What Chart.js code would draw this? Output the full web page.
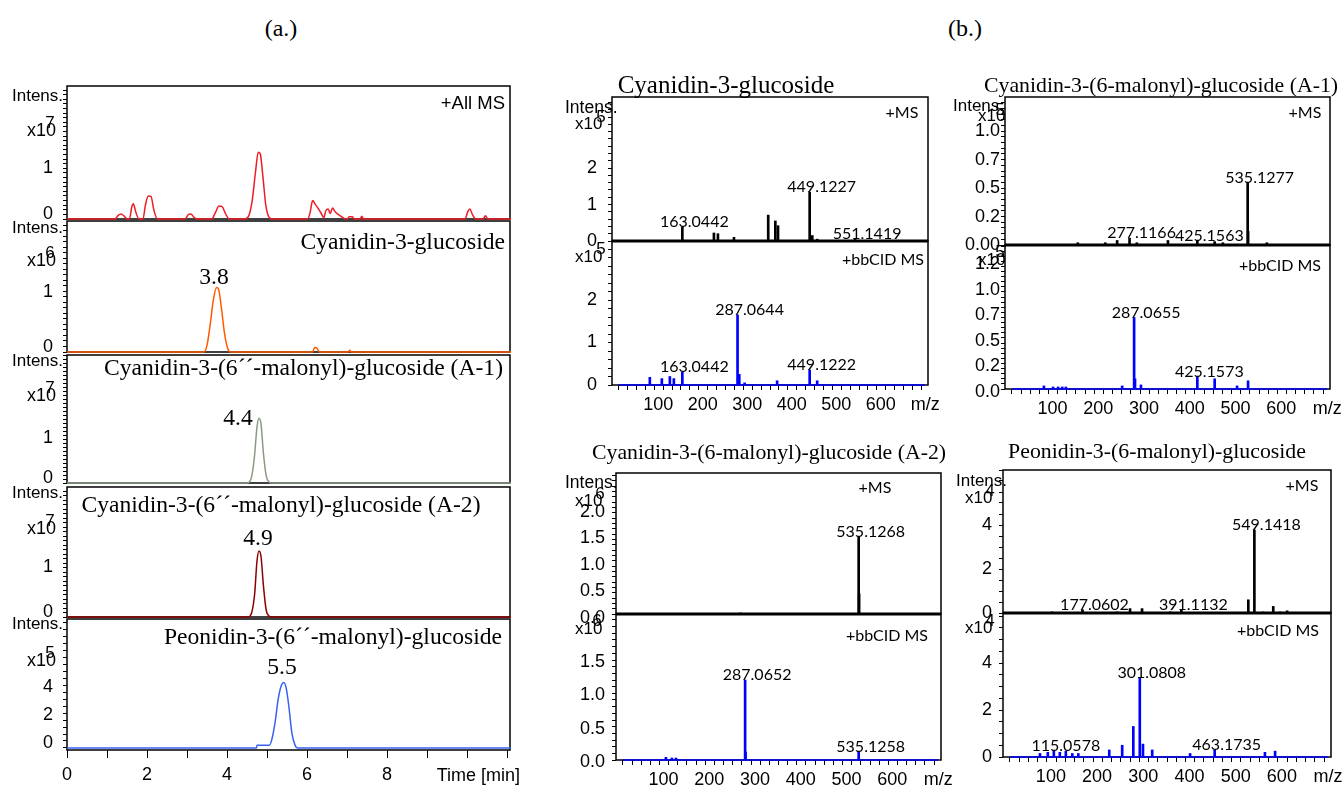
<!DOCTYPE html>
<html>
<head>
<meta charset="utf-8">
<script src="https://cdn.jsdelivr.net/npm/chart.js@4.4.0/dist/chart.umd.min.js"></script>
<style>
  html, body { margin: 0; padding: 0; background: #fff; }
  #page { position: relative; width: 1342px; height: 788px; overflow: hidden; background: #fff; }
  #page canvas { position: absolute; }
  .t { position: absolute; white-space: nowrap; color: #000; z-index: 5; }
</style>
</head>
<body>
<div id="page"></div>
<script>
// --- (a.) chromatograms: time [min], intensity in units of the panel's x10^n ---
const ticTime = [
  0, 1.2, 1.28, 1.35, 1.42, 1.5,
  1.56, 1.62, 1.66, 1.72, 1.8,
  1.9, 1.96, 2.03, 2.1, 2.17, 2.26,
  2.95, 3.04, 3.1, 3.16, 3.24,
  3.62, 3.7, 3.8, 3.88, 3.96, 4.06,
  4.45, 4.55, 4.63, 4.71, 4.78, 4.83, 4.9, 4.97, 5.05, 5.13,
  6.02, 6.08, 6.14, 6.2, 6.27, 6.35, 6.42, 6.47, 6.53, 6.58, 6.64, 6.7, 6.78, 6.88, 6.97,
  7.02, 7.05, 7.14, 7.17, 7.33, 7.37, 7.41,
  9.95, 10.02, 10.07, 10.14, 10.22, 10.4, 10.46, 10.52, 11.1
];
const ticInt = [
  0, 0, 0.08, 0.11, 0.07, 0,
  0, 0.26, 0.33, 0.15, 0,
  0, 0.3, 0.5, 0.49, 0.2, 0,
  0, 0.1, 0.11, 0.05, 0,
  0, 0.12, 0.28, 0.27, 0.12, 0,
  0, 0.08, 0.4, 1.0, 1.45, 1.42, 0.9, 0.3, 0.04, 0,
  0, 0.15, 0.4, 0.33, 0.24, 0.13, 0.03, 0.18, 0.22, 0.12, 0.24, 0.16, 0.1, 0.04, 0,
  0, 0.05, 0.05, 0, 0, 0.06, 0,
  0, 0.16, 0.22, 0.09, 0, 0, 0.07, 0, 0
];
const c3gTime = [0, 3.42, 3.5, 3.58, 3.66, 3.74, 3.79, 3.86, 3.94, 4.02, 4.1, 6.14, 6.19, 6.26, 6.31, 7.02, 7.07, 7.11, 11.1];
const c3gInt  = [0, 0, 0.12, 0.5, 0.95, 1.17, 1.14, 0.8, 0.33, 0.06, 0, 0, 0.08, 0.06, 0, 0, 0.03, 0, 0];
const a1Time = [0, 4.5, 4.6, 4.68, 4.75, 4.8, 4.85, 4.91, 4.98, 5.06, 5.12, 11.1];
const a1Int  = [0, 0, 0.1, 0.6, 1.4, 1.62, 1.48, 0.75, 0.18, 0.02, 0, 0];
const a2Time = [0, 4.52, 4.61, 4.69, 4.75, 4.8, 4.85, 4.91, 4.98, 5.05, 5.12, 11.1];
const a2Int  = [0, 0, 0.08, 0.5, 1.25, 1.47, 1.35, 0.7, 0.15, 0.02, 0, 0];
const pnTime = [0, 4.74, 4.75, 5.06, 5.12, 5.2, 5.28, 5.36, 5.42, 5.48, 5.55, 5.62, 5.7, 5.76, 11.1];
const pnInt  = [0, 0, 0.2, 0.2, 0.6, 1.8, 3.5, 4.5, 4.7, 4.3, 2.9, 1.1, 0.2, 0, 0];

// --- (b.) spectra: m/z and intensity ---
const c3gMsMz   = [163.0442, 234, 243, 279, 356, 372, 378, 449.1227, 455, 466, 551.1419];
const c3gMsInt  = [0.38, 0.22, 0.2, 0.1, 0.71, 0.55, 0.42, 1.34, 0.15, 0.05, 0.06];
const c3gMsLab  = [163.0442, 449.1227, 551.1419];
const c3gCidMz  = [90, 117, 135, 144, 163.0442, 287.0644, 291, 303, 376, 449.1222, 466];
const c3gCidInt = [0.18, 0.15, 0.2, 0.15, 0.3, 1.65, 0.25, 0.05, 0.1, 0.35, 0.1];
const c3gCidLab = [163.0442, 287.0644, 449.1222];

const a1MsMz   = [164, 224, 250, 277.1166, 293, 361, 425.1563, 463, 481, 535.1277, 536.13, 577];
const a1MsInt  = [0.02, 0.02, 0.04, 0.06, 0.02, 0.04, 0.04, 0.03, 0.02, 0.55, 0.12, 0.02];
const a1MsLab  = [277.1166, 425.1563, 535.1277];
const a1CidMz  = [90, 110, 121, 130, 138, 261, 287.0655, 289.07, 302, 425.1573, 463, 512, 536];
const a1CidInt = [0.03, 0.02, 0.02, 0.02, 0.02, 0.03, 0.7, 0.1, 0.04, 0.12, 0.1, 0.03, 0.08];
const a1CidLab = [287.0655, 425.1573];

const a2MsMz   = [277, 535.1268, 536.13];
const a2MsInt  = [0.02, 1.45, 0.38];
const a2MsLab  = [535.1268];
const a2CidMz  = [114, 127, 136, 287.0652, 288.07, 535.1258];
const a2CidInt = [0.04, 0.03, 0.03, 1.2, 0.12, 0.12];
const a2CidLab = [287.0652, 535.1258];

const pnMsMz   = [111, 177.0602, 252, 280, 306, 367, 391.1132, 536, 549.1418, 568, 590, 605, 620];
const pnMsInt  = [0.05, 0.15, 0.05, 0.2, 0.2, 0.05, 0.15, 0.6, 3.77, 0.05, 0.3, 0.05, 0.1];
const pnMsLab  = [177.0602, 391.1132, 549.1418];
const pnCidMz  = [85, 102, 115.0578, 128, 141, 155, 168, 235, 263, 287.07, 301.0808, 308, 328, 410, 463.1735, 572, 594];
const pnCidInt = [0.15, 0.2, 0.25, 0.2, 0.25, 0.15, 0.15, 0.3, 0.5, 1.3, 3.36, 0.55, 0.3, 0.15, 0.3, 0.2, 0.25];
const pnCidLab = [115.0578, 301.0808, 463.1735];

const cidBaseMz  = [20, 708];
const cidBaseInt = [0, 0];

// --- helpers ---
const page = document.getElementById('page');
const SERIF = "'Liberation Serif', 'Times New Roman', serif";
const SANS = "'Liberation Sans', Arial, sans-serif";
const CAL = "Lato, 'Open Sans', sans-serif";

function txt(s, x, y, size, family, align) {
    const d = document.createElement('div');
    d.className = 't';
    d.textContent = s;
    d.style.fontFamily = family;
    d.style.fontSize = size + 'px';
    d.style.lineHeight = '1';
    d.style.left = x + 'px';
    d.style.top = y + 'px';
    const tx = align === 'r' ? '-100%' : align === 'c' ? '-50%' : '0';
    d.style.transform = `translate(${tx}, -50%)`;
    page.appendChild(d);
}

function ticks(a, b, step) {
    const out = [];
    for (let k = Math.round(a / step); k * step <= b + 1e-9; k++) out.push(Math.round(k * step * 1000) / 1000);
    return out;
}

const pts = (xs, ys) => xs.map((v, i) => ({ x: v, y: ys[i] }));

function trace(xs, ys, color) {
    return { type: 'line', data: pts(xs, ys), borderColor: color, borderWidth: 1.5, pointRadius: 0,
             fill: false, cubicInterpolationMode: 'monotone', clip: 3 };
}
function sticks(xs, ys, color) {
    return { type: 'bar', data: pts(xs, ys), backgroundColor: color, barThickness: 2, borderWidth: 0 };
}
function baseline(color) {
    return { type: 'line', data: pts(cidBaseMz, cidBaseInt), borderColor: color, borderWidth: 1.5, pointRadius: 0, clip: 3 };
}

// frame round the plot area, thick separator under the +MS panels
const framePlugin = {
    id: 'frame',
    beforeDatasetsDraw(chart) {
        const { ctx, chartArea: a } = chart;
        ctx.save();
        ctx.strokeStyle = '#000';
        ctx.lineWidth = 1.5;
        ctx.strokeRect(a.left, a.top, a.right - a.left, a.bottom - a.top);
        ctx.restore();
    },
    afterDatasetsDraw(chart, args, opts) {
        if (!opts.sep) return;
        const { ctx, chartArea: a } = chart;
        ctx.save();
        ctx.strokeStyle = '#000';
        ctx.lineWidth = opts.sep;
        ctx.beginPath();
        ctx.moveTo(a.left, a.bottom);
        ctx.lineTo(a.right, a.bottom);
        ctx.stroke();
        ctx.restore();
    }
};

// m/z labels next to the top of the marked peaks
const peakLabelPlugin = {
    id: 'peakLabels',
    afterDatasetsDraw(chart, args, opts) {
        const list = opts.mz || [];
        if (!list.length) return;
        const { ctx, scales: { x, y } } = chart;
        const data = chart.data.datasets[0].data;
        ctx.save();
        ctx.font = '16px ' + CAL;
        ctx.fillStyle = '#000';
        ctx.textAlign = 'center';
        ctx.textBaseline = 'middle';
        list.forEach(m => {
            const p = data.find(d => d.x === m);
            ctx.fillText(m.toFixed(4), x.getPixelForValue(m) + 12, y.getPixelForValue(p.y) - 5);
        });
        ctx.restore();
    }
};

const PAD_T = 28, PAD_B = 28, PAD_R = 40, ML = 60, XH = 36;

function panel(o) {
    const [l, t, r, b] = o.frame;
    const bottom = o.xAxis ? XH : PAD_B;
    const w = r - l + ML + PAD_R, h = b - t + PAD_T + bottom;
    const cv = document.createElement('canvas');
    cv.width = w;
    cv.height = h;
    Object.assign(cv.style, { left: (l - ML) + 'px', top: (t - PAD_T) + 'px', width: w + 'px', height: h + 'px' });
    page.appendChild(cv);
    const x = o.x, y = o.y;
    return new Chart(cv, {
        type: o.type,
        data: { datasets: o.datasets },
        options: {
            responsive: false,
            animation: false,
            events: [],
            layout: { padding: { top: PAD_T, right: PAD_R, left: 0, bottom: o.xAxis ? 0 : PAD_B } },
            plugins: {
                legend: { display: false },
                tooltip: { enabled: false },
                frame: { sep: o.sep || 0 },
                peakLabels: { mz: o.labels || [] }
            },
            scales: {
                x: {
                    type: 'linear', min: x.min, max: x.max, offset: false, display: !!o.xAxis,
                    afterBuildTicks: s => { s.ticks = x.ticks.map(v => ({ value: v })); },
                    afterFit: s => { if (o.xAxis) s.height = XH; },
                    ticks: { autoSkip: false, maxRotation: 0, color: '#000', font: { family: SANS, size: x.font },
                             padding: x.pad, labelOffset: x.off || 0, callback: v => x.label(v) },
                    grid: { offset: false, drawOnChartArea: false, tickLength: x.len, color: '#000', lineWidth: 1 },
                    border: { display: false }
                },
                y: {
                    type: 'linear', min: y.min || 0, max: y.max,
                    afterBuildTicks: s => { s.ticks = y.ticks.map(v => ({ value: v })); },
                    afterFit: s => { s.width = ML; },
                    ticks: { autoSkip: false, color: '#000', font: { family: SANS, size: y.font },
                             padding: y.pad, labelOffset: y.off || 0,
                             callback: v => (y.labels[v] !== undefined ? y.labels[v] : '') },
                    grid: { drawOnChartArea: false, tickLength: 4, color: '#000', lineWidth: 1 },
                    border: { display: false }
                }
            }
        },
        plugins: [framePlugin, peakLabelPlugin]
    });
}

// --- axes ---
const timeAxis = { min: 0, max: 11.075, ticks: ticks(0, 11, 1), font: 18, pad: 6, len: 8,
                   label: v => (v % 2 === 0 && v <= 8 ? String(v) : '') };
const mzAxis = { min: 5, max: 715, ticks: ticks(20, 700, 20), font: 18, pad: 4, len: 5, off: 4,
                 label: v => (v === 700 ? 'm/z' : v % 100 === 0 ? String(v) : '') };
const L01 = { 0: '0', 1: '1' };
const leftY = (max, min) => ({ min: min || 0, max, ticks: ticks(0, max, 0.1), labels: L01, font: 18, pad: 10, off: -5 });

// --- (a.) ---
panel({ type: 'line', frame: [67, 86, 510, 219], x: timeAxis, y: leftY(2.89),
        datasets: [trace(ticTime, ticInt, '#ee1c25')] });
panel({ type: 'line', frame: [67, 221, 510, 352], x: timeAxis, y: leftY(2.38),
        datasets: [trace(c3gTime, c3gInt, '#ff5a00')] });
panel({ type: 'line', frame: [67, 355, 510, 483], x: timeAxis, y: leftY(3.2),
        datasets: [trace(a1Time, a1Int, '#8a9a86')] });
panel({ type: 'line', frame: [67, 487, 510, 617], x: timeAxis, y: leftY(2.89),
        datasets: [trace(a2Time, a2Int, '#8b0000')] });
panel({ type: 'line', frame: [67, 619, 510, 750], x: timeAxis, xAxis: true,
        y: { min: -0.15, max: 9.27, ticks: ticks(0, 9, 0.5), labels: { 0: '0', 2: '2', 4: '4' }, font: 18, pad: 10, off: -5 },
        datasets: [trace(pnTime, pnInt, '#3a62f0')] });

// --- (b.) ---
panel({ type: 'bar', frame: [612, 97, 928, 241], x: mzAxis, sep: 3, labels: c3gMsLab,
        y: { max: 3.95, ticks: ticks(0, 3.9, 0.2), labels: { 0: '0', 1: '1', 2: '2' }, font: 18, pad: 11 },
        datasets: [sticks(c3gMsMz, c3gMsInt, '#000')] });
panel({ type: 'bar', frame: [612, 241, 928, 385], x: mzAxis, xAxis: true, labels: c3gCidLab,
        y: { max: 3.39, ticks: ticks(0, 3.3, 0.2), labels: { 0: '0', 1: '1', 2: '2' }, font: 18, pad: 11 },
        datasets: [sticks(c3gCidMz, c3gCidInt, '#0000ff'), baseline('#0000ff')] });

panel({ type: 'bar', frame: [616, 473, 941, 614], x: mzAxis, sep: 3, labels: a2MsLab,
        y: { max: 2.65, ticks: ticks(0, 2.6, 0.1), labels: { 0: '0.0', 0.5: '0.5', 1: '1.0', 1.5: '1.5', 2: '2.0' }, font: 18, pad: 7, off: 4 },
        datasets: [sticks(a2MsMz, a2MsInt, '#000')] });
panel({ type: 'bar', frame: [616, 614, 941, 760], x: mzAxis, xAxis: true, labels: a2CidLab,
        y: { max: 2.19, ticks: ticks(0, 2.1, 0.1), labels: { 0: '0.0', 0.5: '0.5', 1: '1.0', 1.5: '1.5' }, font: 18, pad: 7, off: 2 },
        datasets: [sticks(a2CidMz, a2CidInt, '#0000ff'), baseline('#0000ff')] });

panel({ type: 'bar', frame: [1005, 97, 1330, 245], x: mzAxis, sep: 3, labels: a1MsLab,
        y: { max: 1.3, ticks: ticks(0, 1.25, 0.05), labels: { 0: '0.00', 0.25: '0.2', 0.5: '0.5', 0.75: '0.7', 1: '1.0' }, font: 18, pad: 1 },
        datasets: [sticks(a1MsMz, a1MsInt, '#000')] });
panel({ type: 'bar', frame: [1005, 245, 1330, 389], x: mzAxis, xAxis: true, labels: a1CidLab,
        y: { max: 1.41, ticks: ticks(0, 1.4, 0.05), labels: { 0: '0.0', 0.25: '0.2', 0.5: '0.5', 0.75: '0.7', 1: '1.0', 1.25: '1.2' }, font: 18, pad: 1, off: 3 },
        datasets: [sticks(a1CidMz, a1CidInt, '#0000ff'), baseline('#0000ff')] });

panel({ type: 'bar', frame: [1003, 470, 1331, 613], x: mzAxis, sep: 3, labels: pnMsLab,
        y: { max: 6.5, ticks: ticks(0, 6.5, 0.5), labels: { 0: '0', 2: '2', 4: '4' }, font: 18, pad: 7 },
        datasets: [sticks(pnMsMz, pnMsInt, '#000')] });
panel({ type: 'bar', frame: [1003, 613, 1331, 757], x: mzAxis, xAxis: true, labels: pnCidLab,
        y: { max: 6.13, ticks: ticks(0, 6, 0.5), labels: { 0: '0', 2: '2', 4: '4' }, font: 18, pad: 7 },
        datasets: [sticks(pnCidMz, pnCidInt, '#0000ff'), baseline('#0000ff')] });

// --- text ---
txt('(a.)', 281, 28, 24, SERIF, 'c');
txt('(b.)', 965, 28, 24, SERIF, 'c');

// left column
[[95, 130, '7'], [227, 260, '6'], [360, 395, '7'], [492, 528, '7'], [623, 660, '5']].forEach(([yi, yx, e]) => {
    txt('Intens.', 12, yi, 17, SANS, 'l');
    txt('x10', 56, yx, 18, SANS, 'r');
    txt(e, 50, yx - 8, 17, SANS, 'c');
});
txt('+All MS', 505, 103, 18.5, SANS, 'r');
txt('Cyanidin-3-glucoside', 505, 242, 23.6, SERIF, 'r');
txt('Cyanidin-3-(6\u00b4\u00b4-malonyl)-glucoside (A-1)', 503, 368, 23.6, SERIF, 'r');
txt('Cyanidin-3-(6\u00b4\u00b4-malonyl)-glucoside (A-2)', 281, 505, 23.6, SERIF, 'c');
txt('Peonidin-3-(6\u00b4\u00b4-malonyl)-glucoside', 502, 637, 23.6, SERIF, 'r');
txt('3.8', 214, 277, 23.6, SERIF, 'c');
txt('4.4', 238, 418, 23.6, SERIF, 'c');
txt('4.9', 258, 538, 23.6, SERIF, 'c');
txt('5.5', 282, 667, 23.6, SERIF, 'c');
txt('Time [min]', 520, 775, 18, SANS, 'r');

// middle column
txt('Cyanidin-3-glucoside', 726, 84, 25, SERIF, 'c');
txt('Intens.', 565, 108, 17.5, SANS, 'l');
txt('x10', 575, 123, 17, SANS, 'l');
txt('5', 601, 116, 17, SANS, 'c');
txt('+MS', 902, 112, 16, CAL, 'c');
txt('x10', 575, 256, 17, SANS, 'l');
txt('5', 601, 248, 17, SANS, 'c');
txt('+bbCID MS', 883, 259, 16, CAL, 'c');

txt('Cyanidin-3-(6-malonyl)-glucoside (A-2)', 769, 453, 21.8, SERIF, 'c');
txt('Intens.', 565, 483, 17.5, SANS, 'l');
txt('x10', 575, 500, 17, SANS, 'l');
txt('6', 600, 493, 17, SANS, 'c');
txt('+MS', 875, 487, 16, CAL, 'c');
txt('x10', 575, 628, 17, SANS, 'l');
txt('6', 597, 620, 17, SANS, 'c');
txt('+bbCID MS', 887, 635, 16, CAL, 'c');

// right column
txt('Cyanidin-3-(6-malonyl)-glucoside (A-1)', 1161, 86, 21.8, SERIF, 'c');
txt('Intens.', 953, 105, 17, SANS, 'l');
txt('x10', 978, 115, 17, SANS, 'l');
txt('5', 1000, 109, 17, SANS, 'c');
txt('+MS', 1305, 112, 16, CAL, 'c');
txt('x10', 978, 259, 17, SANS, 'l');
txt('5', 1000, 251, 17, SANS, 'c');
txt('+bbCID MS', 1280, 265, 16, CAL, 'c');

txt('Peonidin-3-(6-malonyl)-glucoside', 1157, 452, 21.8, SERIF, 'c');
txt('Intens.', 956, 480, 17, SANS, 'l');
txt('x10', 965, 497, 17, SANS, 'l');
txt('4', 990, 490, 17, SANS, 'c');
txt('+MS', 1302, 485, 16, CAL, 'c');
txt('x10', 965, 627, 17, SANS, 'l');
txt('4', 990, 620, 17, SANS, 'c');
txt('+bbCID MS', 1278, 630, 16, CAL, 'c');
</script>
</body>
</html>
